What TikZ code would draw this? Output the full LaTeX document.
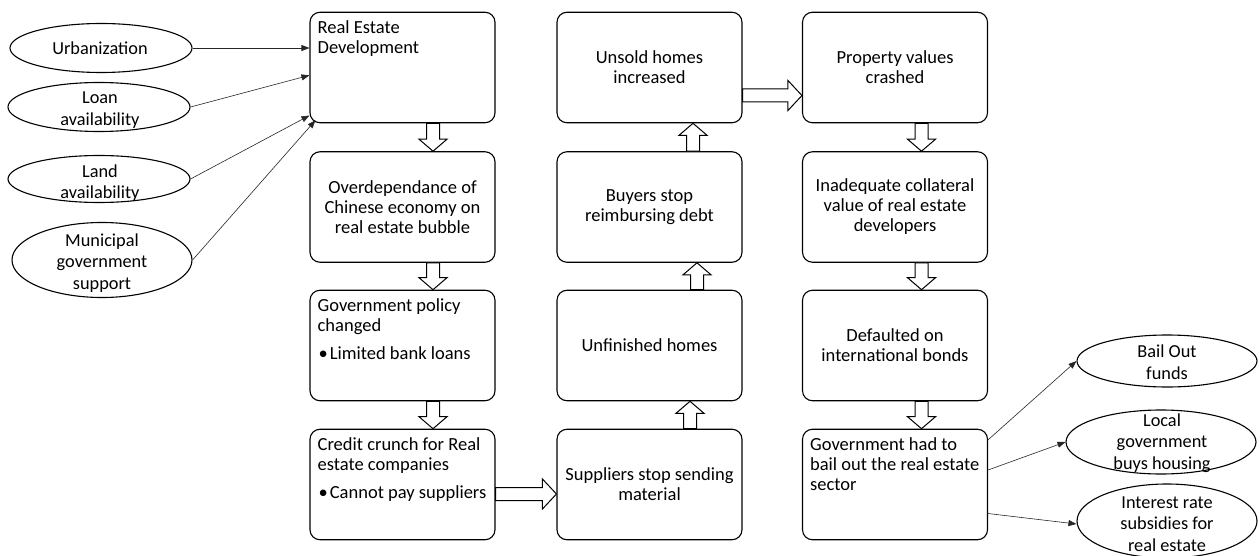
\documentclass[tikz,border=0pt]{standalone}
\usepackage{fontspec}
\setmainfont{Carlito}
\usetikzlibrary{shapes.geometric,arrows.meta,calc}
\begin{document}
\begin{tikzpicture}[x=1pt,y=-1pt,
 font=\fontsize{18.5}{20}\selectfont,
 box/.style={draw, rounded corners=10pt, line width=1.1pt, minimum width=185pt, minimum height=110.5pt, inner sep=0pt, align=center},
 ell/.style={draw, ellipse, line width=1.1pt, inner sep=0pt},
 etxt/.style={inner sep=0pt, align=center, font=\fontsize{18.3}{21.5}\selectfont},
 tl/.style={inner sep=0pt, align=left, anchor=north west},
 conn/.style={draw=black!85, line width=0.6pt, -{Triangle[length=8pt,width=6pt]}},
 blk/.style={draw, fill=white, line width=1pt},
 blkdown/.style={to path={let \p1=(\tikztostart), \p2=(\tikztotarget) in
   (\x1-6.5pt,\y1) -- (\x1+6.5pt,\y1) -- (\x1+6.5pt,\y2+12pt) -- (\x1+14pt,\y2+12pt)
   -- (\x1,\y2) -- (\x1-14pt,\y2+12pt) -- (\x1-6.5pt,\y2+12pt) -- cycle}},
 blkup/.style={to path={let \p1=(\tikztostart), \p2=(\tikztotarget) in
   (\x1-6.5pt,\y1) -- (\x1+6.5pt,\y1) -- (\x1+6.5pt,\y2-12pt) -- (\x1+14pt,\y2-12pt)
   -- (\x1,\y2) -- (\x1-14pt,\y2-12pt) -- (\x1-6.5pt,\y2-12pt) -- cycle}},
 blkright/.style={to path={let \p1=(\tikztostart), \p2=(\tikztotarget) in
   (\x1,\y1+6.5pt) -- (\x2-14pt,\y1+6.5pt) -- (\x2-14pt,\y1+15pt) -- (\x2,\y1)
   -- (\x2-14pt,\y1-15pt) -- (\x2-14pt,\y1-6.5pt) -- (\x1,\y1-6.5pt) -- cycle}},
]
\useasboundingbox (0,0) rectangle (1260,556);

% column 1
\node[box] (re) at (402.5,67.5) {};
\node[tl] (retxt) at ([xshift=8pt,yshift=-9pt]re.north west) {Real Estate\\Development};
\node[box] (od) at (402.5,207) {Overdependance of\\Chinese economy on\\real estate bubble};
\node[box] (gp) at (402.5,345.5) {};
\node[tl] (gptxt) at ([xshift=8pt,yshift=-9pt]gp.north west) {Government policy\\changed\\[8pt]\kern1pt\textbullet\kern2pt Limited bank loans};
\node[box] (cc) at (402.5,484.5) {};
\node[tl] (cctxt) at ([xshift=8pt,yshift=-9pt]cc.north west) {Credit crunch for Real\\estate companies\\[8pt]\kern1pt\textbullet\kern2pt Cannot pay suppliers};

% column 2
\node[box] (uh) at (649.5,67.5) {Unsold homes\\increased};
\node[box] (bs) at (649.5,207) {Buyers stop\\reimbursing debt};
\node[box] (uf) at (649.5,345.5) {Unfinished homes};
\node[box] (ss) at (649.5,484.5) {Suppliers stop sending\\material};

% column 3
\node[box] (pv) at (895,67.5) {Property values\\crashed};
\node[box] (ic) at (895,207) {Inadequate collateral\\value of real estate\\developers};
\node[box] (db) at (895,345.5) {Defaulted on\\international bonds};
\node[box] (gb) at (895,484.5) {};
\node[tl] (gbtxt) at ([xshift=8pt,yshift=-9pt]gb.north west) {Government had to\\bail out the real estate\\sector};

% left ellipses
\node[ell, minimum width=182pt, minimum height=49pt] (urb) at (101,48) {};
\node[etxt] (urbt) at (100,48) {Urbanization};
\node[ell, minimum width=182pt, minimum height=49pt] (loan) at (99,107) {};
\node[etxt] (loant) at (100,110) {Loan\\availability};
\node[ell, minimum width=182pt, minimum height=47pt] (land) at (99,179) {};
\node[etxt] (landt) at (100,183) {Land\\availability};
\node[ell, minimum width=180pt, minimum height=75pt] (mun) at (102,260) {};
\node[etxt] (munt) at (102,263) {Municipal\\government\\support};

% right ellipses
\node[ell, minimum width=180pt, minimum height=52pt] (bail) at (1167,361) {};
\node[etxt] (bailt) at (1167,362) {Bail Out\\funds};
\node[ell, minimum width=190pt, minimum height=64pt] (local) at (1161,442) {};
\node[etxt] (localt) at (1162,443) {Local\\government\\buys housing};
\node[ell, minimum width=180pt, minimum height=74pt] (intr) at (1167,521) {};
\node[etxt] (intrt) at (1167,524) {Interest rate\\subsidies for\\real estate};

% thin connectors
\draw[conn] (urb.east) -- (re.west |- urb.east);
\draw[conn] (loan.east) -- ($(re.north west)!0.57!(re.south west)$);
\draw[conn] (land.east) -- ($(re.north west)!0.93!(re.south west)$);
\draw[conn] (mun.east) -- ([xshift=6pt,yshift=3pt]re.south west);
\draw[conn] ($(gb.north east)!0.1!(gb.south east)$) -- (bail.west);
\draw[conn] ($(gb.north east)!0.37!(gb.south east)$) -- (local.west);
\draw[conn] ($(gb.north east)!0.76!(gb.south east)$) -- ([yshift=-3pt]intr.west);

% block arrows
\draw[blk, blkdown] ([xshift=30.5pt]re.south) to ([xshift=30.5pt]od.north);
\draw[blk, blkdown] ([xshift=30.5pt]od.south) to ([xshift=30.5pt]gp.north);
\draw[blk, blkdown] ([xshift=30.5pt]gp.south) to ([xshift=30.5pt]cc.north);
\draw[blk, blkright] ([yshift=-9.5pt]cc.east) to ([yshift=-9.5pt]ss.west);
\draw[blk, blkup] ([xshift=40.5pt]ss.north) to ([xshift=40.5pt]uf.south);
\draw[blk, blkup] ([xshift=47.5pt]uf.north) to ([xshift=47.5pt]bs.south);
\draw[blk, blkup] ([xshift=43.5pt]bs.north) to ([xshift=43.5pt]uh.south);
\draw[blk, blkright] ([yshift=-28pt]uh.east) to ([yshift=-28pt]pv.west);
\draw[blk, blkdown] ([xshift=26.5pt]pv.south) to ([xshift=26.5pt]ic.north);
\draw[blk, blkdown] ([xshift=26.5pt]ic.south) to ([xshift=26.5pt]db.north);
\draw[blk, blkdown] ([xshift=26.5pt]db.south) to ([xshift=26.5pt]gb.north);
\end{tikzpicture}
\end{document}
